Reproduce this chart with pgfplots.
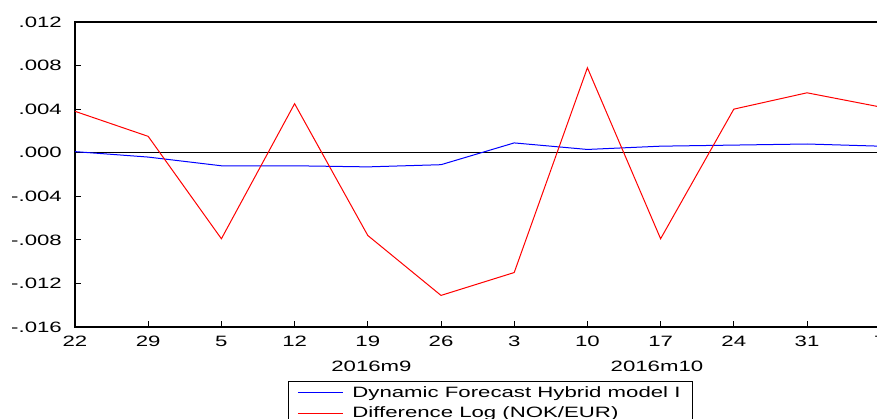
\documentclass[border=0pt]{standalone}
\usepackage{fontspec}
\setmainfont[FakeStretch=1.48]{Liberation Sans}
\usepackage{pgfplots}
\usepackage{pgfplotstable}
\pgfplotsset{compat=1.18}
\pgfplotstableread{
x blue red
0 0.0001 0.0038
1 -0.0004 0.0015
2 -0.0012 -0.0079
3 -0.0012 0.0045
4 -0.0013 -0.0076
5 -0.0011 -0.0131
6 0.0009 -0.0110
7 0.0003 0.0078
8 0.0006 -0.0079
9 0.0007 0.0040
10 0.0008 0.0055
11 0.0006 0.0042
}\datatable
\begin{document}
\fontsize{15bp}{18bp}\selectfont
\begin{tikzpicture}
\begin{axis}[
  at={(0,0)}, anchor=south west,
  scale only axis, width=805.2bp, height=305bp,
  xmin=0, xmax=11, ymin=-0.016, ymax=0.012,
  xtick={0,1,2,3,4,5,6,7,8,9,10,11},
  xticklabels={22,29,5,12,19,26,3,10,17,24,31,7},
  ytick={-0.016,-0.012,-0.008,-0.004,0,0.004,0.008,0.012},
  yticklabels={-.016,-.012,-.008,-.004,.000,.004,.008,.012},
  scaled y ticks=false,
  /pgf/number format/assume math mode=true,
  tick align=inside, xtick pos=bottom, ytick pos=left,
  major tick length=6bp,
  tick style={black, line width=0.8bp},
  axis line style={black, line width=1.2bp},
  every tick label/.append style={inner sep=0pt, font=\fontsize{15bp}{18bp}\selectfont},
  yticklabel style={xshift=-13bp},
  xticklabel style={yshift=-9bp},
  clip=false,
  legend style={at={(axis description cs:0.2645,-0.177)}, anchor=north west,
    draw=black, line width=0.8bp, inner xsep=9bp, inner ysep=2bp,
    font=\fontsize{15bp}{18bp}\selectfont, row sep=1bp,
    nodes={inner sep=3bp},
    /tikz/every odd column/.append style={column sep=6bp}},
  legend cell align=left,
  legend image code/.code={\draw[#1] (0bp,0bp) -- (45bp,0bp);},
]
\addplot[black, line width=0.8bp, forget plot] coordinates {(0,0) (11,0)};
\addplot[blue, line width=1bp] table[x=x, y=blue] {\datatable};
\addlegendentry{Dynamic Forecast Hybrid model I}
\addplot[red, line width=1bp] table[x=x, y=red] {\datatable};
\addlegendentry{Difference Log (NOK/EUR)}
\node at (axis cs:4.05,-0.016) [yshift=-39bp] {2016m9};
\node at (axis cs:7.95,-0.016) [yshift=-39bp] {2016m10};
\end{axis}
\pgfresetboundingbox
\useasboundingbox (-75bp,-92bp) rectangle (802bp,327bp);
\end{tikzpicture}
\end{document}
